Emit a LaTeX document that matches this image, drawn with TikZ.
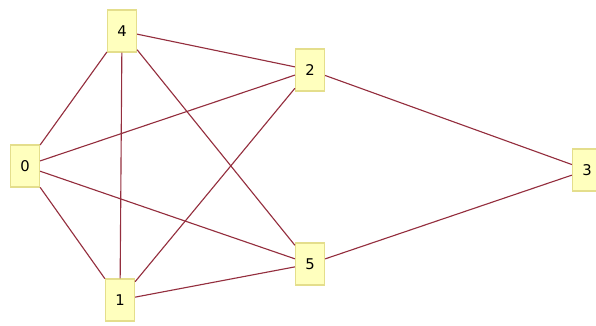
\documentclass[tikz,border=0pt]{standalone}
\usepackage{fontspec}
\setmainfont{DejaVu Sans}
\definecolor{boxfill}{RGB}{255,255,190}
\definecolor{boxline}{RGB}{228,222,140}
\definecolor{edgered}{RGB}{148,46,62}
\tikzset{vertex/.style={draw=boxline,fill=boxfill,line width=0.9pt,minimum width=0.725cm,minimum height=1.05cm,inner sep=0pt,font=\fontsize{10.5}{12}\selectfont},
link/.style={draw=edgered,line width=0.8pt}}
\begin{document}
\begin{tikzpicture}[x=0.025cm,y=-0.025cm]
\useasboundingbox (0,0) rectangle (596,325);
\node[vertex] (n4) at (122,31) {4}; \node[vertex] (n2) at (310,70) {2};
\node[vertex] (n0) at (25,166) {0}; \node[vertex] (n3) at (587,170) {3};
\node[vertex] (n5) at (310,264) {5}; \node[vertex] (n1) at (120,300) {1};
\draw[link] (n4) -- (n2); \draw[link] (n4) -- (n0); \draw[link] (n4) -- (n1); \draw[link] (n4) -- (n5);
\draw[link] (n0) -- (n2); \draw[link] (n0) -- (n5); \draw[link] (n0) -- (n1);
\draw[link] (n2) -- (n1); \draw[link] (n2) -- (n3);
\draw[link] (n5) -- (n3); \draw[link] (n1) -- (n5);
\end{tikzpicture}
\end{document}
